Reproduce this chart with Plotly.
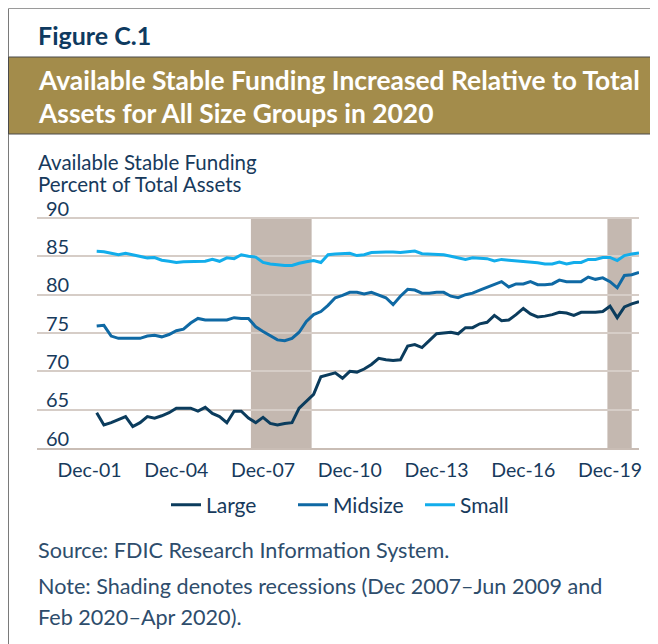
import pandas as pd
import plotly.graph_objects as go

# quarterly observations, Mar 2002 - Dec 2020
quarters = pd.date_range("2002-03-31", periods=76, freq="QE")

large = [
    64.6, 63.0, 63.3, 63.7, 64.1, 62.8, 63.3, 64.1, 63.9, 64.2,
    64.6, 65.2, 65.2, 65.2, 64.8, 65.3, 64.5, 64.1, 63.3, 64.8,
    64.8, 63.9, 63.3, 64.0, 63.2, 63.0, 63.2, 63.3, 65.2, 66.1,
    67.0, 69.3, 69.5, 69.8, 69.1, 70.0, 69.9, 70.3, 70.9, 71.7,
    71.5, 71.4, 71.5, 73.3, 73.5, 73.1, 74.0, 74.9, 75.0, 75.1,
    74.9, 75.7, 75.7, 76.2, 76.4, 77.3, 76.6, 76.7, 77.4, 78.2,
    77.5, 77.1, 77.2, 77.4, 77.7, 77.6, 77.3, 77.7, 77.7, 77.7,
    77.8, 78.5, 77.0, 78.4, 78.8, 79.1,
]
midsize = [
    75.9, 76.0, 74.6, 74.3, 74.3, 74.3, 74.3, 74.6, 74.7, 74.5,
    74.8, 75.3, 75.5, 76.3, 76.9, 76.7, 76.7, 76.7, 76.7, 77.0,
    76.9, 76.9, 75.8, 75.2, 74.7, 74.1, 74.0, 74.3, 75.1, 76.5,
    77.4, 77.8, 78.6, 79.6, 79.9, 80.3, 80.3, 80.1, 80.3, 80.0,
    79.6, 78.7, 79.8, 80.7, 80.6, 80.2, 80.2, 80.3, 80.3, 79.8,
    79.6, 80.0, 80.2, 80.6, 81.0, 81.4, 81.7, 81.0, 81.4, 81.4,
    81.7, 81.3, 81.3, 81.4, 81.9, 81.7, 81.7, 81.7, 82.3, 82.0,
    82.2, 81.7, 80.9, 82.5, 82.6, 82.9,
]
small = [
    85.65, 85.6, 85.4, 85.2, 85.4, 85.2, 85.0, 84.8, 84.85, 84.5,
    84.35, 84.2, 84.3, 84.3, 84.35, 84.35, 84.6, 84.35, 84.8, 84.7,
    85.2, 85.0, 84.9, 84.2, 84.0, 83.9, 83.8, 83.8, 84.1, 84.3,
    84.45, 84.2, 85.2, 85.3, 85.35, 85.4, 85.1, 85.2, 85.5, 85.55,
    85.55, 85.55, 85.5, 85.6, 85.7, 85.35, 85.3, 85.25, 85.2, 85.0,
    84.8, 84.6, 84.8, 84.75, 84.7, 84.4, 84.6, 84.5, 84.4, 84.3,
    84.3, 84.15, 84.0, 84.0, 84.25, 84.0, 84.2, 84.2, 84.6, 84.6,
    84.85, 84.85, 84.45, 85.1, 85.3, 85.45,
]

tick_dates = ["2001-12-31", "2004-12-31", "2007-12-31", "2010-12-31",
              "2013-12-31", "2016-12-31", "2019-12-31"]
tick_labels = ["Dec-01", "Dec-04", "Dec-07", "Dec-10", "Dec-13", "Dec-16", "Dec-19"]
y_ticks = [60, 65, 70, 75, 80, 85, 90]

# shaded bands as drawn in the source chart
recessions = [("2007-07-31", "2009-09-05"), ("2019-11-28", "2020-09-30")]

series = [
    ("Large", large, "#0B3C5D"),
    ("Midsize", midsize, "#0F69A4"),
    ("Small", small, "#12ADEB"),
]

FONT = "Source Sans Pro, Lato, sans-serif"
NAVY = "#173A5C"

# page body adds an 8px margin; layout numbers below are in figure pixels
W, H = 650, 636
Y_TOP = 93
L, R, B = 29, 19, 196
T = round(210.3 - (Y_TOP - 90) * 7.657)
PW, PH = W - L - R, H - T - B


# helpers take screen pixel positions
def px(x):
    return (x - 8 - L) / PW


def py(y):
    return (H - B - (y - 8)) / PH


fig = go.Figure()

for name, vals, color in series:
    fig.add_trace(go.Scatter(
        x=quarters, y=vals, name=name, mode="lines",
        line=dict(color=color, width=3),
    ))

for x0, x1 in recessions:
    fig.add_shape(type="rect", xref="x", yref="y", x0=x0, x1=x1, y0=60, y1=90,
                  fillcolor="#C4B8B0", line_width=0, layer="below")

# y tick labels sit above their grid lines at the left edge
for v in y_ticks:
    fig.add_annotation(text=str(v), xref="paper", yref="y", x=px(44), y=v,
                       xanchor="left", yanchor="middle", yshift=10.5,
                       showarrow=False, font=dict(family=FONT, size=20, color=NAVY))

# frame and header banner
fig.add_shape(type="line", xref="paper", yref="paper",
              x0=px(8.5), x1=px(8.5), y0=py(8.5), y1=py(H + 20),
              line=dict(color="#7A7A7A", width=1))
fig.add_shape(type="line", xref="paper", yref="paper",
              x0=px(8.5), x1=px(W + 20), y0=py(8.5), y1=py(8.5),
              line=dict(color="#9A9A9A", width=1))
fig.add_shape(type="rect", xref="paper", yref="paper",
              x0=px(8.5), x1=px(W + 20), y0=py(57), y1=py(134),
              fillcolor="#A38C4B", line=dict(color="#4A4A4A", width=1))

fig.add_annotation(text="<b>Figure C.1</b>", xref="paper", yref="paper",
                   x=px(36), y=py(35), xanchor="left", yanchor="middle",
                   showarrow=False, font=dict(family=FONT, size=25, color="#0E3A60"))
for txt, yy in [("Available Stable Funding Increased Relative to Total", 80),
                ("Assets for All Size Groups in 2020", 113)]:
    fig.add_annotation(text="<b>" + txt + "</b>", xref="paper", yref="paper",
                       x=px(36), y=py(yy), xanchor="left", yanchor="middle",
                       showarrow=False, font=dict(family=FONT, size=26.4, color="white"))
for txt, yy in [("Available Stable Funding", 162), ("Percent of Total Assets", 184)]:
    fig.add_annotation(text=txt, xref="paper", yref="paper",
                       x=px(36), y=py(yy), xanchor="left", yanchor="middle",
                       showarrow=False, font=dict(family=FONT, size=20.5, color=NAVY))
for txt, yy in [("Source: FDIC Research Information System.", 550),
                ("Note: Shading denotes recessions (Dec 2007\u2013Jun 2009 and", 586),
                ("Feb 2020\u2013Apr 2020).", 617)]:
    fig.add_annotation(text=txt, xref="paper", yref="paper",
                       x=px(36), y=py(yy), xanchor="left", yanchor="middle",
                       showarrow=False, font=dict(family=FONT, size=21.6, color="#2E4D6C"))

fig.update_xaxes(
    type="date",
    range=["2000-03-07", "2020-12-31"],
    tickvals=tick_dates, ticktext=tick_labels,
    showgrid=False, zeroline=False,
    showline=True, linecolor="#C9BDB5", linewidth=1.5,
    ticks="", ticklabelstandoff=4,
    tickfont=dict(family=FONT, size=19.5, color=NAVY),
)
fig.update_yaxes(
    range=[60, Y_TOP], tickvals=y_ticks,
    showgrid=True, gridcolor="#D6CDC7", gridwidth=1.5,
    zeroline=False, ticks="", showticklabels=False,
)

fig.update_layout(
    width=W, height=H,
    margin=dict(l=L, r=R, t=T, b=B, autoexpand=False),
    paper_bgcolor="white", plot_bgcolor="white",
    font=dict(family=FONT, color=NAVY),
    legend=dict(orientation="h", x=px(166), xanchor="left",
                y=py(505), yanchor="middle",
                font=dict(family=FONT, size=21, color=NAVY),
                itemwidth=30, entrywidth=82, entrywidthmode="pixels",
                traceorder="normal"),
)

fig.write_html("out.html")
